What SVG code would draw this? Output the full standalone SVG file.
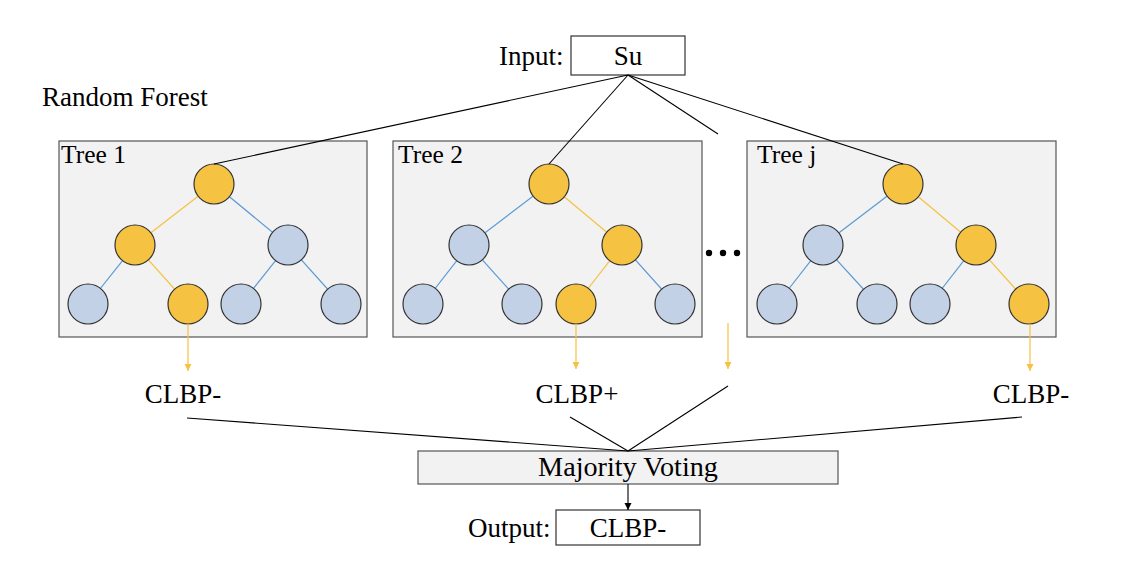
<svg xmlns="http://www.w3.org/2000/svg" width="1132" height="562" viewBox="0 0 1132 562">
<style>
.t{font-size:27px}
.tl{font-size:25.5px}
.box{fill:#f2f2f2;stroke:#555;stroke-width:1.2}
.wbox{fill:#fff;stroke:#333;stroke-width:1.2}
.o{fill:#f5c242;stroke:#333;stroke-width:1.2}
.b{fill:#c2d1e5;stroke:#333;stroke-width:1.2}
.eo{stroke:#f5c242;stroke-width:1.2}
.eb{stroke:#5b9bd5;stroke-width:1.2}
.k{stroke:#000;stroke-width:1.1;fill:none}
.ao{stroke:#f5c242;stroke-width:1.2;fill:none}
</style>
<defs>
<marker id="ahO" markerWidth="8" markerHeight="8" refX="7" refY="4" orient="auto" markerUnits="userSpaceOnUse"><path d="M0,0.5 L7,4 L0,7.5 Z" fill="#f5c242"/></marker>
<marker id="ahK" markerWidth="8" markerHeight="8" refX="7" refY="4" orient="auto" markerUnits="userSpaceOnUse"><path d="M0,0.5 L7,4 L0,7.5 Z" fill="#000"/></marker>
</defs>
<rect width="1132" height="562" fill="#fff"/>
<g font-family="'Liberation Serif', 'DejaVu Serif', serif" fill="#000">

<text class="t" x="42" y="106" font-size="27.6">Random Forest</text>

<g id="input">
<text class="t" x="499" y="65">Input:</text>
<rect class="wbox" x="571" y="36" width="114" height="39"/>
<text class="t" x="628" y="65" text-anchor="middle">Su</text>
</g>

<g id="tree1">
<rect class="box" x="59" y="141" width="308" height="196"/>
<text class="tl" x="61" y="163">Tree 1</text>
<line class="eo" x1="214" y1="184" x2="135" y2="245"/>
<line class="eb" x1="214" y1="184" x2="288" y2="245"/>
<line class="eb" x1="135" y1="245" x2="88" y2="304"/>
<line class="eo" x1="135" y1="245" x2="188" y2="304"/>
<line class="eb" x1="288" y1="245" x2="241" y2="304"/>
<line class="eb" x1="288" y1="245" x2="341" y2="304"/>
<g id="t1n1"><circle class="o" cx="214" cy="184" r="20"/></g>
<g id="t1n2"><circle class="o" cx="135" cy="245" r="20"/></g>
<g id="t1n3"><circle class="b" cx="288" cy="245" r="20"/></g>
<g id="t1n4"><circle class="b" cx="88" cy="304" r="20"/></g>
<g id="t1n5"><circle class="o" cx="188" cy="304" r="20"/></g>
<g id="t1n6"><circle class="b" cx="241" cy="304" r="20"/></g>
<g id="t1n7"><circle class="b" cx="341" cy="304" r="20"/></g>
</g>

<g id="tree2">
<rect class="box" x="393" y="141" width="309" height="196"/>
<text class="tl" x="398" y="163">Tree 2</text>
<line class="eb" x1="549" y1="184" x2="469" y2="245"/>
<line class="eo" x1="549" y1="184" x2="622" y2="245"/>
<line class="eb" x1="469" y1="245" x2="423" y2="304"/>
<line class="eb" x1="469" y1="245" x2="522" y2="304"/>
<line class="eo" x1="622" y1="245" x2="576" y2="304"/>
<line class="eb" x1="622" y1="245" x2="675" y2="304"/>
<g id="t2n1"><circle class="o" cx="549" cy="184" r="20"/></g>
<g id="t2n2"><circle class="b" cx="469" cy="245" r="20"/></g>
<g id="t2n3"><circle class="o" cx="622" cy="245" r="20"/></g>
<g id="t2n4"><circle class="b" cx="423" cy="304" r="20"/></g>
<g id="t2n5"><circle class="b" cx="522" cy="304" r="20"/></g>
<g id="t2n6"><circle class="o" cx="576" cy="304" r="20"/></g>
<g id="t2n7"><circle class="b" cx="675" cy="304" r="20"/></g>
</g>

<g id="ellipsis">
<circle cx="709" cy="253" r="3.2" fill="#000"/>
<circle cx="723" cy="253" r="3.2" fill="#000"/>
<circle cx="737" cy="253" r="3.2" fill="#000"/>
</g>

<g id="treej">
<rect class="box" x="747" y="141" width="309" height="196"/>
<text class="tl" x="757" y="163">Tree j</text>
<line class="eb" x1="903" y1="184" x2="823" y2="245"/>
<line class="eo" x1="903" y1="184" x2="976" y2="245"/>
<line class="eb" x1="823" y1="245" x2="777" y2="304"/>
<line class="eb" x1="823" y1="245" x2="877" y2="304"/>
<line class="eb" x1="976" y1="245" x2="930" y2="304"/>
<line class="eo" x1="976" y1="245" x2="1029" y2="304"/>
<g id="tjn1"><circle class="o" cx="903" cy="184" r="20"/></g>
<g id="tjn2"><circle class="b" cx="823" cy="245" r="20"/></g>
<g id="tjn3"><circle class="o" cx="976" cy="245" r="20"/></g>
<g id="tjn4"><circle class="b" cx="777" cy="304" r="20"/></g>
<g id="tjn5"><circle class="b" cx="877" cy="304" r="20"/></g>
<g id="tjn6"><circle class="b" cx="930" cy="304" r="20"/></g>
<g id="tjn7"><circle class="o" cx="1029" cy="304" r="20"/></g>
</g>

<g id="results">
<text class="t" x="183" y="403" text-anchor="middle">CLBP-</text>
<text class="t" x="577" y="403" text-anchor="middle">CLBP+</text>
<text class="t" x="1031" y="403" text-anchor="middle">CLBP-</text>
</g>

<g id="voting">
<rect class="box" x="418" y="451" width="420" height="33"/>
<text class="t" x="628" y="476" text-anchor="middle" font-size="28.2" style="font-size:28.2px">Majority Voting</text>
</g>

<g id="output">
<text class="t" x="468" y="537">Output:</text>
<rect class="wbox" x="556" y="510" width="144" height="35"/>
<text class="t" x="628" y="537" text-anchor="middle">CLBP-</text>
</g>

<g id="connectors">
<line class="k" x1="628" y1="75" x2="214" y2="164"/>
<line class="k" x1="628" y1="75" x2="549" y2="164"/>
<line class="k" x1="628" y1="75" x2="718" y2="134"/>
<line class="k" x1="628" y1="75" x2="903" y2="164"/>
<line class="ao" x1="188" y1="324" x2="188" y2="371" marker-end="url(#ahO)"/>
<line class="ao" x1="576" y1="324" x2="576" y2="369" marker-end="url(#ahO)"/>
<line class="ao" x1="728" y1="323" x2="728" y2="369" marker-end="url(#ahO)"/>
<line class="ao" x1="1030" y1="324" x2="1030" y2="371" marker-end="url(#ahO)"/>
<line class="k" x1="187" y1="418" x2="628" y2="451"/>
<line class="k" x1="570" y1="417" x2="628" y2="451"/>
<line class="k" x1="728" y1="386" x2="628" y2="451"/>
<line class="k" x1="1022" y1="417" x2="628" y2="451"/>
<line class="k" x1="628" y1="484" x2="628" y2="510" marker-end="url(#ahK)"/>
</g>
</g>
</svg>
